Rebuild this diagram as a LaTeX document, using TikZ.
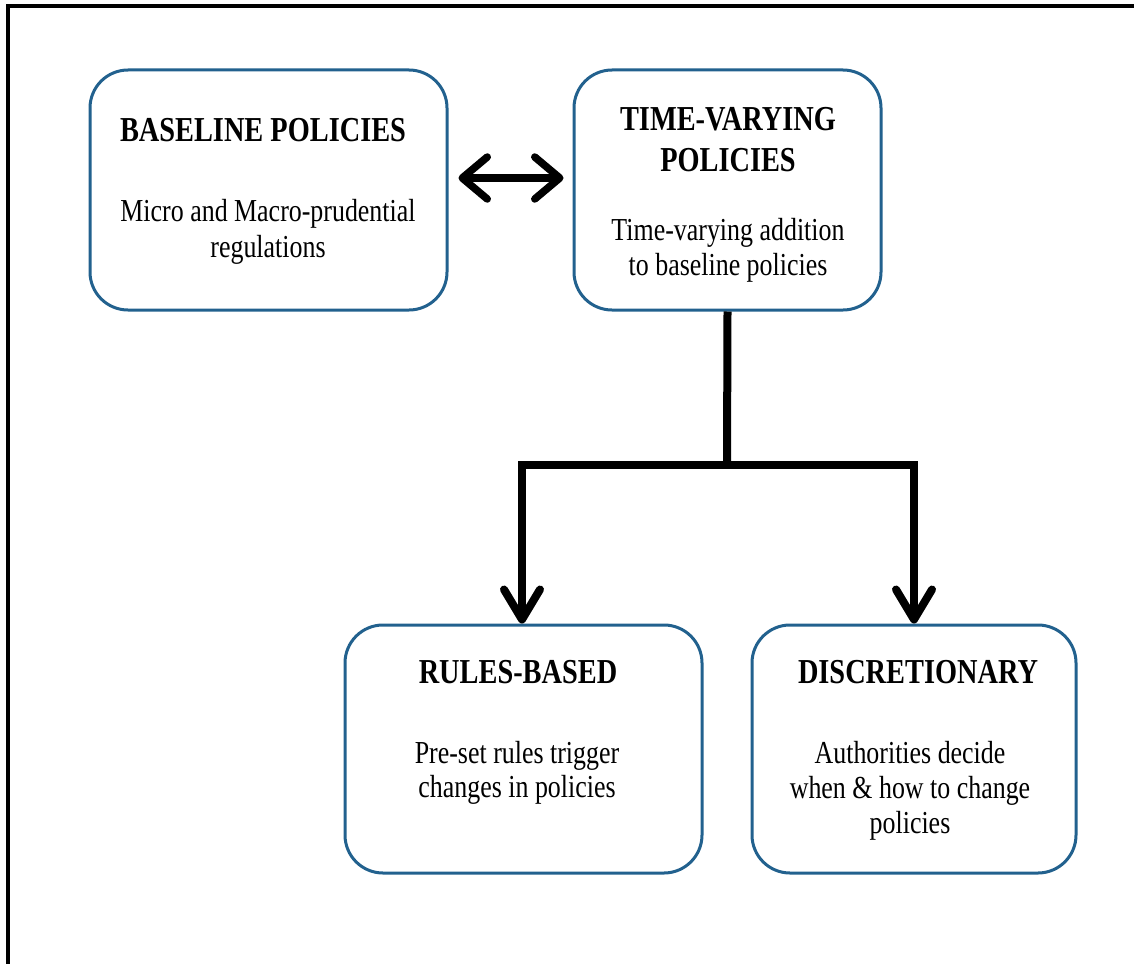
\documentclass[tikz,border=0pt]{standalone}
\usepackage{fontspec}
\setmainfont{Liberation Serif}[FakeStretch=0.81]
\usetikzlibrary{arrows.meta}
\definecolor{boxblue}{RGB}{34,97,142}
\tikzset{
  pbox/.style={draw=boxblue, line width=3pt, rounded corners=38pt, fill=white, inner sep=0pt},
  ttl/.style={anchor=base, font=\bfseries\fontsize{35}{41}\selectfont, inner sep=0pt},
  body/.style={anchor=base, font=\fontsize{32}{36}\selectfont, inner sep=0pt},
  conn/.style={line width=8pt, black},
  vtip/.tip={Straight Barb[length=30pt, width=36pt, line cap=round, line join=round]},
  htip/.tip={Straight Barb[length=25pt, width=42pt, line cap=round, line join=round]},
}
\begin{document}
\begin{tikzpicture}[x=1pt, y=1pt]
\useasboundingbox (0,0) rectangle (1134,-963);
% frame
\draw[line width=4pt, line cap=rect] (8,-963) -- (8,-6) -- (1134,-6);
% boxes
\node[pbox, minimum width=357pt, minimum height=240pt] (base) at (268.5,-190) {};
\node[pbox, minimum width=307pt, minimum height=240pt] (tv) at (727.5,-190) {};
\node[pbox, minimum width=357pt, minimum height=248pt] (rb) at (523.5,-749) {};
\node[pbox, minimum width=324pt, minimum height=248pt] (dc) at (914,-749) {};
% texts
\node[ttl] (baseT) at (263,-142) {BASELINE POLICIES};
\node[body] (baseB1) at (268,-221) {Micro and Macro-prudential};
\node[body] (baseB2) at (268,-257) {regulations};
\node[ttl] (tvT1) at (728,-130) {TIME-VARYING};
\node[ttl] (tvT2) at (728,-171) {POLICIES};
\node[body] (tvB1) at (728,-240) {Time-varying addition};
\node[body] (tvB2) at (728,-275) {to baseline policies};
\node[ttl] (rbT) at (518,-683) {RULES-BASED};
\node[body] (rbB1) at (517,-763) {Pre-set rules trigger};
\node[body] (rbB2) at (517,-797) {changes in policies};
\node[ttl] (dcT) at (918,-683) {DISCRETIONARY};
\node[body] (dcB1) at (910,-763) {Authorities decide};
\node[body] (dcB2) at (910,-798) {when \& how to change};
\node[body] (dcB3) at (910,-833) {policies};
% connectors
\coordinate (j) at (727,-465);
\draw[conn] (tv.south) -- (j);
\draw[conn, vtip-vtip, line join=miter] ([xshift=-1.5pt]rb.north) |- (j) -| (dc.north);
\draw[conn, line width=7.5pt, htip-htip, shorten <=10pt, shorten >=9pt] ([yshift=12pt]base.east) -- ([yshift=12pt]tv.west);
\end{tikzpicture}
\end{document}
